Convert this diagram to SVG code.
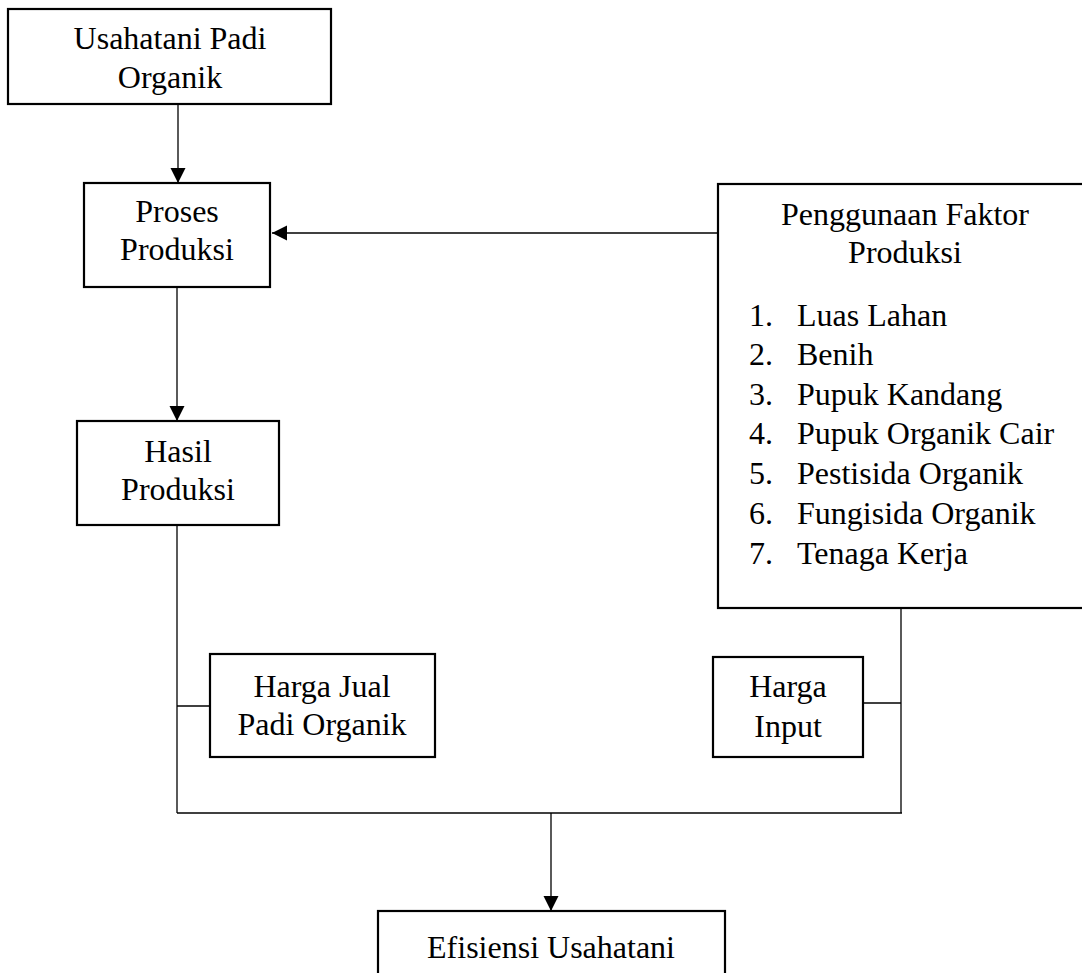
<svg xmlns="http://www.w3.org/2000/svg" width="1082" height="973" viewBox="0 0 1082 973">
<style>
.box{fill:#fff;stroke:#000;stroke-width:2.2}
.con{fill:none;stroke:#000;stroke-width:1.3}
text{font-family:"Liberation Serif","Times New Roman",serif;font-size:32px;fill:#000}
.c{text-anchor:middle}
</style>
<defs>
<marker id="ah" markerUnits="userSpaceOnUse" markerWidth="16" markerHeight="16" viewBox="0 0 16 16" refX="15" refY="8" orient="auto">
<path d="M0,0.5 L15,8 L0,15.5 Z" fill="#000"/>
</marker>
</defs>
<rect width="1082" height="973" fill="#fff"/>
<g id="connectors">
<line class="con" x1="178" y1="105" x2="178" y2="183" marker-end="url(#ah)"/>
<line class="con" x1="718" y1="233" x2="272" y2="233" marker-end="url(#ah)"/>
<line class="con" x1="177" y1="287" x2="177" y2="421" marker-end="url(#ah)"/>
<line class="con" x1="177" y1="525" x2="177" y2="813"/>
<line class="con" x1="177" y1="706" x2="210" y2="706"/>
<line class="con" x1="177" y1="813" x2="902" y2="813"/>
<line class="con" x1="901" y1="608" x2="901" y2="813"/>
<line class="con" x1="863" y1="703" x2="901" y2="703"/>
<line class="con" x1="551" y1="813" x2="551" y2="911" marker-end="url(#ah)"/>
</g>
<g id="usahatani">
<rect class="box" x="8" y="9" width="323" height="95"/>
<text class="c" x="170" y="49">Usahatani Padi</text>
<text class="c" x="170" y="88">Organik</text>
</g>
<g id="proses">
<rect class="box" x="84" y="183" width="186" height="104"/>
<text class="c" x="177" y="222">Proses</text>
<text class="c" x="177" y="260">Produksi</text>
</g>
<g id="hasil">
<rect class="box" x="77" y="421" width="202" height="104"/>
<text class="c" x="178" y="462">Hasil</text>
<text class="c" x="178" y="500">Produksi</text>
</g>
<g id="faktor">
<rect class="box" x="718" y="184" width="380" height="424"/>
<text class="c" x="905" y="225">Penggunaan Faktor</text>
<text class="c" x="905" y="263">Produksi</text>
<text x="749" y="326">1.</text><text x="797" y="326">Luas Lahan</text>
<text x="749" y="365">2.</text><text x="797" y="365">Benih</text>
<text x="749" y="405">3.</text><text x="797" y="405">Pupuk Kandang</text>
<text x="749" y="444">4.</text><text x="797" y="444">Pupuk Organik Cair</text>
<text x="749" y="484">5.</text><text x="797" y="484">Pestisida Organik</text>
<text x="749" y="524">6.</text><text x="797" y="524">Fungisida Organik</text>
<text x="749" y="564">7.</text><text x="797" y="564">Tenaga Kerja</text>
</g>
<g id="hargajual">
<rect class="box" x="210" y="654" width="225" height="103"/>
<text class="c" x="322" y="697">Harga Jual</text>
<text class="c" x="322" y="735">Padi Organik</text>
</g>
<g id="hargainput">
<rect class="box" x="713" y="657" width="150" height="100"/>
<text class="c" x="788" y="697">Harga</text>
<text class="c" x="788" y="737">Input</text>
</g>
<g id="efisiensi">
<rect class="box" x="378" y="911" width="347" height="90"/>
<text class="c" x="551" y="958">Efisiensi Usahatani</text>
</g>
</svg>
